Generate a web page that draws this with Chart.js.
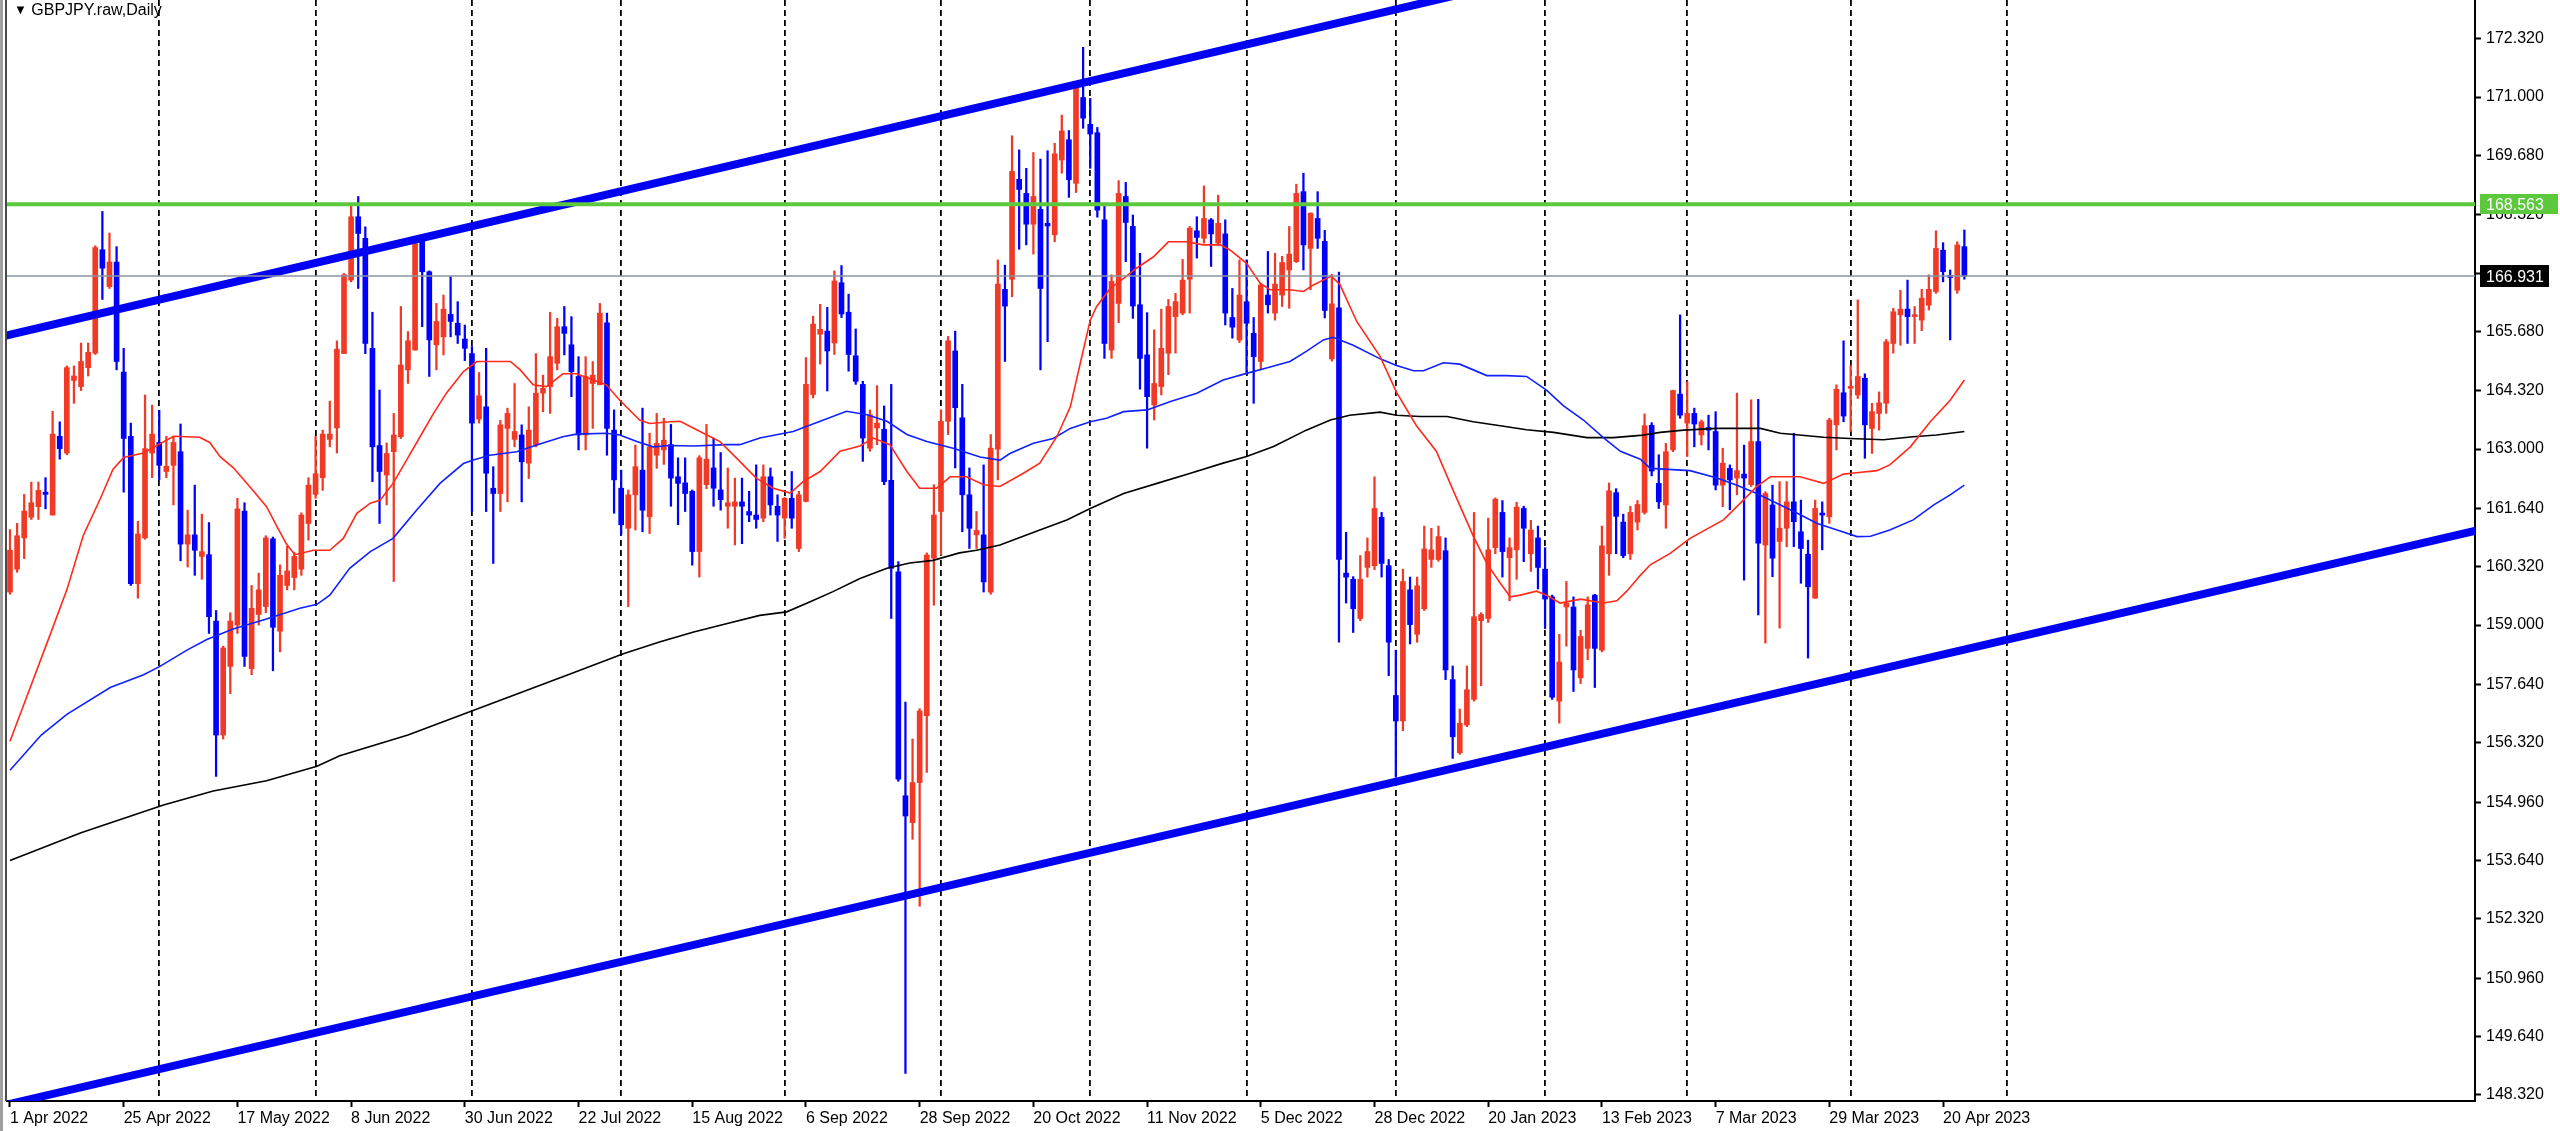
<!DOCTYPE html>
<html><head><meta charset="utf-8">
<script src="https://cdn.jsdelivr.net/npm/chart.js@4.4.1/dist/chart.umd.min.js"></script>
<style>
html,body{margin:0;padding:0;background:#fff;}
#wrap{position:relative;width:2560px;height:1131px;overflow:hidden;background:#fff;}
#title{position:absolute;left:14px;top:1px;font:16px 'Liberation Sans',Arial,sans-serif;color:#000;white-space:nowrap;}
#title .tri{font-size:13px;position:relative;top:-1px;}
</style></head><body>
<div id="wrap"><canvas id="c" width="2560" height="1131"></canvas>
<div id="title"><span class="tri">▼</span>&nbsp;GBPJPY.raw,Daily</div></div>
<script>
// ---------------- DATA (daily bars, 1 Apr 2022 .. 25 Apr 2023) ----------------
const opens = [159.75,160.27,160.98,161.45,161.69,162.02,161.50,163.29,162.91,164.56,
164.42,164.85,165.18,167.53,166.69,167.25,164.75,163.29,159.94,160.98,
162.91,163.15,162.49,162.63,162.94,160.84,161.05,160.56,160.60,159.09,
156.50,158.06,159.00,161.59,158.01,159.24,159.42,160.96,158.86,159.90,
160.08,160.27,161.31,161.97,162.35,163.22,163.48,165.17,166.84,168.28,
167.79,165.29,163.08,162.41,162.94,163.28,164.80,165.25,167.79,167.03,
165.37,165.55,166.06,165.86,165.50,165.17,163.68,163.96,162.11,161.99,
163.47,163.22,163.32,162.68,163.09,164.27,164.42,164.95,165.78,165.37,
164.65,163.32,164.49,164.46,165.87,163.43,162.11,161.20,161.96,162.52,
161.46,162.86,162.98,163.10,162.37,162.23,162.04,160.67,162.19,162.57,
162.07,161.70,161.70,161.80,161.58,161.50,161.43,162.37,161.70,161.43,
161.88,160.74,161.81,164.24,165.61,165.68,165.41,166.78,166.11,165.12,
164.47,163.02,163.48,163.45,162.29,160.21,155.12,154.51,155.42,156.94,
160.52,161.58,163.63,165.23,163.71,161.96,161.05,161.05,159.75,163.00,
166.63,166.86,169.13,168.81,168.11,168.45,168.13,167.87,169.57,170.03,
169.04,170.99,170.38,170.19,168.21,165.25,166.31,168.74,168.06,166.28,
165.14,164.00,164.42,165.18,166.01,166.09,166.86,167.96,167.79,168.21,
167.68,167.89,165.99,165.48,166.35,165.63,164.99,166.50,166.09,166.50,
167.07,167.26,168.85,167.56,168.24,167.72,165.05,166.21,160.18,160.04,
159.15,160.31,160.35,161.45,160.35,157.40,156.82,159.80,158.79,159.37,
160.49,160.49,160.69,157.76,156.10,156.73,157.31,159.10,159.15,160.76,
161.56,160.53,160.71,161.65,160.62,160.98,160.27,159.64,157.27,159.41,
159.41,157.80,158.47,159.68,158.43,160.62,162.01,161.34,160.62,161.34,
161.56,163.54,162.22,161.73,162.98,164.25,163.59,163.81,163.32,163.49,
163.40,162.18,162.56,162.34,162.43,162.19,163.17,160.82,161.73,160.90,
161.20,161.80,161.12,160.61,159.61,161.54,161.46,163.55,164.28,164.38,
164.23,164.61,163.47,163.81,164.04,165.40,166.05,166.18,166.01,165.93,
166.27,166.58,167.52,166.93,166.61,167.60];

const highs = [161.17,161.31,161.97,162.25,162.25,162.35,163.86,163.62,164.89,164.89,
165.41,165.41,167.62,168.40,167.91,167.60,165.29,163.59,161.36,164.23,
164.00,163.88,163.29,163.29,163.57,161.61,162.18,161.52,161.33,159.33,
158.52,159.28,161.88,161.78,159.90,160.18,161.03,161.00,160.37,160.79,
160.65,161.55,162.35,163.29,163.43,164.09,165.46,166.99,168.55,168.74,
168.05,166.11,164.34,163.14,163.81,166.24,165.67,167.83,167.87,167.05,
166.31,166.50,166.92,166.35,165.82,165.33,164.74,165.29,162.60,163.65,
163.93,164.49,163.55,163.96,165.17,164.68,166.11,165.97,166.24,166.01,
165.10,165.10,164.99,166.31,166.09,163.89,162.52,162.07,163.09,163.93,
163.36,163.81,163.70,163.56,162.80,162.80,162.07,162.85,163.56,163.25,
162.92,162.57,162.34,162.34,162.04,162.64,162.64,162.57,161.96,161.90,
162.49,162.04,165.08,166.02,166.29,166.22,167.05,167.17,166.52,165.73,
164.54,163.89,164.44,163.98,164.47,160.44,157.25,156.41,157.10,160.64,
162.19,163.89,165.56,165.68,164.47,162.57,161.58,162.64,163.33,167.30,
167.18,170.12,169.80,169.38,169.74,169.59,169.78,169.95,170.59,170.24,
171.35,172.13,170.97,170.31,168.59,166.96,169.10,169.06,168.32,167.45,
166.10,165.71,166.18,166.40,166.54,167.31,168.06,168.28,168.98,168.24,
168.77,168.21,166.65,167.30,167.30,165.99,166.77,167.49,167.45,167.38,
168.06,169.02,169.27,168.37,168.85,167.97,166.97,167.02,161.11,160.10,
160.58,160.98,162.37,161.56,160.49,158.43,160.27,160.09,160.09,161.25,
161.20,161.25,160.98,158.07,157.09,158.07,161.56,159.28,161.43,161.89,
161.83,160.98,161.79,161.70,161.38,161.25,160.76,159.68,158.79,159.99,
159.64,158.88,159.64,159.70,161.25,162.23,162.10,161.52,161.70,161.83,
163.80,163.60,162.87,163.13,164.34,166.05,164.53,163.93,163.66,163.77,
163.85,163.02,162.64,164.27,163.09,164.12,164.13,162.03,162.18,162.26,
162.26,163.36,161.84,160.93,161.84,161.80,163.70,164.46,165.46,164.90,
166.39,164.71,164.04,164.30,165.49,166.20,166.61,166.84,166.24,166.63,
166.96,167.96,167.69,167.07,167.71,167.98];

const lows = [159.70,160.20,160.51,161.40,161.40,161.64,161.50,162.77,162.87,164.04,
164.33,164.66,165.15,166.40,166.65,164.80,162.02,159.90,159.61,160.95,
162.35,162.30,162.35,161.73,160.46,160.32,160.13,160.04,158.81,155.56,
156.41,157.44,158.81,158.06,157.87,159.00,159.28,157.96,158.39,159.80,
159.80,160.13,160.93,161.88,162.06,163.05,162.91,165.17,166.80,166.65,
165.17,162.26,161.31,161.73,159.99,163.24,164.49,165.25,165.78,164.65,
164.80,165.14,165.55,165.40,165.01,161.58,163.59,161.58,160.40,161.58,
161.80,163.05,161.80,162.33,163.05,163.85,163.81,164.80,165.14,164.19,
162.98,162.98,163.47,164.46,162.86,161.54,161.05,159.42,161.16,161.12,
161.08,162.56,162.65,161.70,161.28,161.58,160.36,160.09,162.10,161.70,
161.61,161.20,160.82,160.85,161.35,161.20,161.35,161.50,160.90,160.97,
161.20,160.67,161.80,164.16,164.93,164.32,165.15,165.99,164.77,164.47,
162.72,162.95,163.10,162.19,159.15,155.45,148.81,154.13,152.61,155.65,
159.45,160.59,163.33,162.57,161.12,160.74,160.74,159.75,159.70,162.30,
164.99,166.46,167.54,167.64,167.43,164.80,165.44,167.71,169.27,168.72,
168.83,170.29,169.38,168.27,165.06,165.06,165.87,167.26,165.97,164.36,
163.02,163.66,164.23,164.69,165.18,166.05,166.09,167.34,167.68,167.15,
167.65,165.82,165.52,165.42,164.72,164.04,164.81,166.09,165.93,166.24,
166.20,167.24,167.07,166.62,167.56,165.98,165.00,158.61,159.50,158.83,
159.10,160.09,160.26,160.09,157.85,155.54,156.60,158.57,158.61,159.33,
160.31,160.45,157.76,155.97,156.06,156.69,157.27,157.62,159.06,160.62,
160.09,159.55,160.04,160.44,160.22,159.82,158.92,157.31,156.77,158.52,
157.49,157.67,158.21,157.58,158.39,160.13,160.62,160.53,160.49,161.16,
161.52,162.39,161.65,161.20,162.94,163.70,162.83,163.05,163.09,162.98,
162.07,161.69,161.62,161.96,160.02,162.15,159.23,158.59,160.10,158.93,
160.78,160.78,159.95,158.25,159.61,160.71,161.31,162.98,163.62,163.40,
164.15,162.79,162.90,163.43,163.81,165.18,165.36,165.40,165.40,165.69,
166.16,166.54,166.80,165.48,166.54,166.86];

const closes = [160.70,161.03,161.59,161.78,162.06,161.97,163.34,163.01,164.85,164.66,
164.99,165.20,167.58,167.11,167.25,164.99,163.24,159.94,161.07,163.01,
163.34,162.63,162.61,163.15,160.84,161.05,160.70,160.67,159.19,156.50,
158.48,159.09,161.64,158.29,159.38,159.80,160.98,158.95,160.13,160.23,
160.56,161.50,162.18,162.44,163.34,163.34,165.27,166.96,168.28,167.90,
165.40,163.05,162.49,162.90,163.32,164.91,165.46,167.79,167.03,165.48,
165.90,166.18,165.90,165.59,165.29,163.59,164.21,162.45,161.99,163.55,
163.81,163.40,162.71,163.43,164.27,164.38,165.10,165.78,165.63,164.76,
163.32,164.65,164.68,166.09,163.47,162.30,161.28,161.96,162.60,161.61,
163.05,163.13,163.20,162.34,162.22,161.99,160.67,162.80,162.77,162.11,
161.85,161.78,161.80,161.70,161.50,161.40,162.37,161.73,161.50,161.88,
161.43,161.96,164.47,165.84,165.72,165.23,166.82,166.07,165.15,164.54,
163.25,163.78,163.59,162.26,160.29,155.50,154.66,155.42,157.05,160.59,
161.50,163.63,165.46,163.94,161.96,161.20,161.15,159.98,163.02,166.75,
166.25,169.31,168.90,168.11,168.74,166.65,168.07,169.71,170.23,169.12,
171.28,170.52,170.16,168.43,165.40,166.81,168.81,168.15,166.25,165.06,
164.19,164.49,165.29,166.24,166.35,166.84,168.02,167.81,168.24,167.89,
168.13,166.09,165.77,166.50,165.86,165.10,166.73,166.28,166.75,167.24,
167.43,168.81,167.64,168.36,167.79,166.15,166.30,160.49,160.09,159.37,
160.04,160.67,161.65,160.40,158.61,156.82,159.99,159.01,159.89,160.73,
160.71,161.01,157.98,156.46,156.77,157.53,159.19,159.24,160.71,161.86,
160.67,160.76,161.68,161.20,161.16,160.31,159.59,157.36,158.16,159.50,
157.98,158.74,159.46,158.47,160.80,162.05,161.47,160.58,161.56,161.74,
163.53,162.50,161.80,162.94,164.33,163.77,163.81,163.57,163.62,163.43,
162.18,162.68,162.30,162.51,162.34,163.17,160.86,161.99,160.52,161.20,
161.80,161.35,160.74,159.87,161.65,161.50,163.66,164.36,163.75,164.42,
164.65,163.55,163.85,164.05,165.44,166.12,166.18,166.01,166.03,166.43,
166.63,167.56,167.03,166.90,167.64,166.93];

// moving averages: [bar index, price]
const maFast = [[0,156.36],[5.6,158.76],[8,159.80],[10.3,161.03],[12.7,161.87],[14.5,162.54],[16,162.81],[18.8,162.91],[23,163.29],[26.7,163.27],[28.1,163.15],[29.6,162.82],[31.4,162.58],[34.2,162.06],[36.1,161.69],[37.5,161.26],[38.9,160.84],[40.1,160.60],[42.7,160.70],[45,160.70],[46.9,160.97],[48.8,161.54],[50.7,161.77],[52.1,161.84],[53.9,162.22],[55.8,162.75],[57.7,163.28],[59.6,163.81],[61.4,164.27],[63.8,164.76],[65.7,164.99],[70.4,164.99],[71.8,164.80],[73.6,164.46],[75.5,164.42],[77.8,164.71],[79.7,164.71],[82.1,164.57],[83.9,164.46],[85.8,164.11],[88.6,163.66],[90,163.58],[92.9,163.62],[94.3,163.63],[97.1,163.40],[99.9,163.17],[102.2,162.80],[105,162.34],[107.4,162.11],[109.8,162.00],[111.6,162.26],[114,162.49],[116.8,162.95],[119.6,163.07],[121.5,163.25],[123.8,163.10],[126.2,162.49],[128,162.11],[130.4,162.11],[132.3,162.37],[134.6,162.37],[137,162.19],[139.3,162.15],[142.6,162.45],[144.9,162.68],[147.3,163.28],[149.2,163.96],[150.6,164.95],[152,165.93],[152.9,166.24],[154.8,166.65],[156.7,166.88],[158.5,167.11],[160.9,167.37],[163,167.71],[165.6,167.71],[167.9,167.64],[170.3,167.64],[171.7,167.52],[174,167.22],[175.9,166.77],[177.3,166.62],[180.1,166.62],[182,166.58],[183.4,166.73],[185.9,166.93],[187.1,166.75],[189.5,165.90],[192.8,165.10],[195.1,164.29],[197.9,163.53],[200.7,162.95],[203.1,162.05],[205.9,161.02],[207.8,160.40],[209.7,159.95],[211.1,159.64],[212.5,159.68],[214.8,159.77],[216.2,159.68],[218.1,159.50],[221,159.59],[224.2,159.50],[226.1,159.55],[227.5,159.77],[229.4,160.13],[230.8,160.37],[233.6,160.63],[236.4,160.97],[241.1,161.39],[243.9,161.84],[245.8,162.15],[247.7,162.37],[251.9,162.37],[255.2,162.22],[258,162.43],[259.8,162.46],[262.7,162.51],[264.5,162.64],[267.4,163.05],[270.2,163.62],[273,164.11],[275,164.57]];

const maMid = [[0,155.70],[4.4,156.50],[8,156.97],[14.1,157.58],[18.8,157.87],[21.1,158.06],[24.9,158.43],[27.7,158.67],[31.4,158.91],[36.1,159.14],[40.8,159.38],[43.2,159.47],[45,159.68],[47.8,160.29],[50.7,160.67],[53.9,160.97],[57.2,161.61],[60.5,162.22],[63.8,162.67],[65.2,162.75],[67.5,162.86],[71.3,162.94],[74.1,163.09],[77.8,163.28],[79.7,163.34],[83.9,163.36],[85.8,163.32],[88.2,163.17],[90.5,163.05],[92.9,163.08],[96.2,163.07],[100.8,163.10],[102.7,163.10],[105.5,163.25],[110.2,163.40],[114,163.63],[117.7,163.86],[120.6,163.78],[123.4,163.63],[126.2,163.33],[129,163.17],[132.7,163.02],[136.5,162.82],[139.3,162.75],[140.7,162.90],[144,163.13],[146.8,163.24],[149.2,163.47],[152,163.62],[154.3,163.70],[156.7,163.85],[160,163.89],[163.3,164.08],[167,164.27],[170.7,164.57],[174,164.72],[176.8,164.84],[180.1,164.99],[182.4,165.22],[184.8,165.48],[186.2,165.54],[189,165.36],[192.8,165.05],[195.1,164.90],[197.5,164.78],[198.9,164.78],[201.7,164.96],[204,164.93],[207.8,164.67],[210.6,164.67],[213.4,164.65],[216.2,164.34],[218.6,163.98],[221.4,163.66],[224.2,163.26],[226.6,162.95],[229.4,162.77],[230.8,162.56],[236.4,162.51],[240.2,162.34],[243,162.18],[245.8,161.99],[248.6,161.77],[251.5,161.54],[254.3,161.31],[257.1,161.16],[259.9,161.01],[261.8,161.02],[264.5,161.16],[267.8,161.39],[270.7,161.73],[273,161.96],[275,162.18]];

const maSlow = [[0,153.65],[10,154.28],[21.6,154.91],[28.6,155.23],[36.1,155.46],[43.2,155.79],[46.4,156.03],[56,156.50],[67.5,157.20],[79,157.90],[86.3,158.35],[91.5,158.62],[96.2,158.84],[100.8,159.03],[105.5,159.22],[109.3,159.30],[112.6,159.53],[115.8,159.76],[119.6,160.06],[123.4,160.29],[126.6,160.41],[129.9,160.47],[133.6,160.64],[136,160.70],[139.3,160.82],[144.9,161.16],[148.7,161.39],[152,161.65],[156.7,161.99],[161.4,162.22],[166.1,162.45],[170.7,162.68],[174,162.83],[177.8,163.06],[182.4,163.43],[185.8,163.66],[188.5,163.77],[192.8,163.84],[195.1,163.77],[198.4,163.74],[202.2,163.74],[205.9,163.62],[209.7,163.53],[213.4,163.44],[217.2,163.38],[221.9,163.26],[225.6,163.26],[229.4,163.31],[232.2,163.38],[235.5,163.43],[240.2,163.47],[246.3,163.47],[249.1,163.36],[255.2,163.27],[258.9,163.24],[263.6,163.21],[267.8,163.28],[271.1,163.32],[275,163.40]];

// channel trendline anchors [bar index, price]
const upperChannel = [[-1,165.562],[210,173.561]];
const lowerChannel = [[-1,148.082],[350,161.259]];

const levelPrice = 168.563;   // horizontal level
const lastPrice = 166.931;    // current bid

const xTickBars = [0,16,32,48,64,80,96,112,128,144,160,176,192,208,224,240,256,272];
const xTickLabels = ['1 Apr 2022','25 Apr 2022','17 May 2022','8 Jun 2022','30 Jun 2022','22 Jul 2022','15 Aug 2022','6 Sep 2022','28 Sep 2022','20 Oct 2022','11 Nov 2022','5 Dec 2022','28 Dec 2022','20 Jan 2023','13 Feb 2023','7 Mar 2023','29 Mar 2023','20 Apr 2023'];
const monthStartBars = [21,43,65,86,109,131,152,174,195,216,236,259,281];
const yTickValues = [172.32,171.00,169.68,168.32,167.00,165.68,164.32,163.00,161.64,160.32,159.00,157.64,156.32,154.96,153.64,152.32,150.96,149.64,148.32];

// ---------------- CHART ----------------
Chart.defaults.font.family = "'Liberation Sans', Arial, sans-serif";
Chart.defaults.font.size = 16;
Chart.defaults.color = '#000';

const RED = '#f03a26', BLUE = '#0000ff';
const idx = opens.map((_, i) => i);
const candleColor = idx.map(i => closes[i] >= opens[i] ? RED : BLUE);

const X_MIN = -0.42, X_MAX = 346.85;
const Y_MIN = 148.183, Y_MAX = 173.206;

const hline = v => [{x: X_MIN, y: v}, {x: X_MAX, y: v}];
const pts = arr => arr.map(p => ({x: p[0], y: p[1]}));
const lineBase = {type: 'line', pointRadius: 0, pointHoverRadius: 0, tension: 0, fill: false, clip: 0};

const decor = {
  id: 'decor',
  afterDraw(chart) {
    const ctx = chart.ctx, ys = chart.scales.y, area = chart.chartArea;
    ctx.save();
    ctx.fillStyle = '#a0a0a0'; ctx.fillRect(0, 0, 3, chart.height);
    ctx.fillStyle = '#4a4a4a'; ctx.fillRect(5, 0, 2, area.bottom);
    const box = (v, bg, w, h) => {
      const y = ys.getPixelForValue(v);
      ctx.fillStyle = bg;
      ctx.fillRect(area.right + 5, Math.round(y - h / 2), w, h);
      ctx.fillStyle = '#fff';
      ctx.font = "16px 'Liberation Sans', Arial, sans-serif";
      ctx.textBaseline = 'middle'; ctx.textAlign = 'left';
      ctx.fillText(v.toFixed(3), area.right + 11, y + 1);
    };
    box(levelPrice, '#5cc83c', 78, 20);
    box(lastPrice, '#000', 69, 22);
    ctx.restore();
  }
};

new Chart(document.getElementById('c'), {
  type: 'bar',
  data: {
    datasets: [
      {...lineBase, label: 'level', data: hline(levelPrice), borderColor: '#5cc83c', borderWidth: 4},
      {...lineBase, label: 'bid', data: hline(lastPrice), borderColor: '#8a94a0', borderWidth: 1.5},
      {...lineBase, label: 'channel up', data: pts(upperChannel), borderColor: '#0000f5', borderWidth: 8},
      {...lineBase, label: 'channel low', data: pts(lowerChannel), borderColor: '#0000f5', borderWidth: 8},
      {...lineBase, label: 'MA fast', data: pts(maFast), borderColor: '#ff2a1a', borderWidth: 1.6},
      {...lineBase, label: 'MA mid', data: pts(maMid), borderColor: '#1020ff', borderWidth: 1.6},
      {...lineBase, label: 'MA slow', data: pts(maSlow), borderColor: '#000000', borderWidth: 1.6},
      {type: 'bar', label: 'body', data: idx.map(i => ({x: i, y: [opens[i], closes[i]]})),
        backgroundColor: candleColor, borderWidth: 0, barThickness: 5, grouped: false, minBarLength: 2, clip: 0},
      {type: 'bar', label: 'wick', data: idx.map(i => ({x: i, y: [lows[i], highs[i]]})),
        backgroundColor: candleColor, borderWidth: 0, barThickness: 1.6, grouped: false, clip: 0}
    ]
  },
  options: {
    responsive: false, animation: false, devicePixelRatio: 1, events: [],
    layout: {padding: {left: 7, top: 0, right: 0, bottom: 0}},
    plugins: {legend: {display: false}, tooltip: {enabled: false}, title: {display: false}},
    scales: {
      x: {
        type: 'linear', position: 'bottom', min: X_MIN, max: X_MAX, offset: false,
        afterBuildTicks: s => { s.ticks = xTickBars.map(v => ({value: v})); },
        afterFit: s => { s.height = 30; s.paddingLeft = 0; s.paddingRight = 0; },
        ticks: {autoSkip: false, maxRotation: 0, minRotation: 0, align: 'start', padding: 2, color: '#000',
          callback: (v, i) => xTickLabels[i]},
        grid: {display: true, drawOnChartArea: false, drawTicks: true, tickLength: 6, tickColor: '#000', tickWidth: 2, offset: false},
        border: {display: true, color: '#000', width: 2}
      },
      xsep: {
        type: 'linear', position: 'top', min: X_MIN, max: X_MAX, offset: false,
        afterBuildTicks: s => { s.ticks = monthStartBars.map(v => ({value: v})); },
        afterFit: s => { s.height = 0; s.paddingLeft = 0; s.paddingRight = 0; },
        ticks: {display: false, autoSkip: false},
        grid: {display: true, drawOnChartArea: true, drawTicks: false, color: '#000', lineWidth: 1.8, offset: false},
        border: {display: false, dash: [6, 4]}
      },
      y: {
        type: 'linear', position: 'right', min: Y_MIN, max: Y_MAX,
        afterBuildTicks: s => { s.ticks = yTickValues.map(v => ({value: v})); },
        afterFit: s => { s.width = 85; s.paddingTop = 0; s.paddingBottom = 0; },
        ticks: {color: '#000', padding: 5, callback: v => Number(v).toFixed(3)},
        grid: {display: true, drawOnChartArea: false, drawTicks: true, tickLength: 6, tickColor: '#000', tickWidth: 2},
        border: {display: true, color: '#000', width: 2}
      }
    }
  },
  plugins: [decor]
});
</script></body></html>
